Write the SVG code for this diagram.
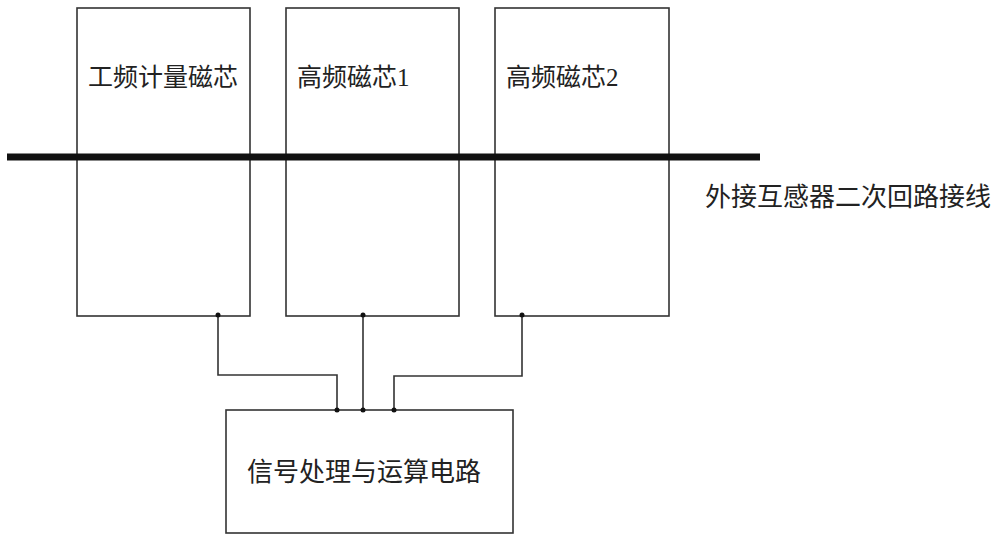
<svg xmlns="http://www.w3.org/2000/svg" width="1000" height="543" viewBox="0 0 1000 543">
<style>
.b{fill:none;stroke:#333;stroke-width:1.6}
.c{fill:none;stroke:#333;stroke-width:1.6}
.t{font-family:"Liberation Serif","Noto Sans CJK SC",serif;font-size:25px;fill:#222}
</style>
<rect width="1000" height="543" fill="#fff"/>
<g id="n1"><rect class="b" x="77" y="8" width="173" height="308"/><text class="t" x="88" y="86">工频计量磁芯</text></g>
<g id="n2"><rect class="b" x="286" y="8" width="173" height="308"/><text class="t" x="297" y="86">高频磁芯1</text></g>
<g id="n3"><rect class="b" x="495" y="8" width="174" height="308"/><text class="t" x="506" y="86">高频磁芯2</text></g>
<g id="n4"><rect class="b" x="226" y="410" width="287" height="123"/><text class="t" x="247" y="481" style="font-size:26px">信号处理与运算电路</text></g>
<g id="wire"><line x1="7" y1="157" x2="760" y2="157" stroke="#111" stroke-width="7"/><text class="t" x="705" y="206" style="font-size:26px">外接互感器二次回路接线</text></g>
<g id="connectors">
<polyline class="c" points="218,315 218,375 337,375 337,410"/>
<polyline class="c" points="363,315 363,410"/>
<polyline class="c" points="522,315 522,376 394,376 394,410"/>
<g fill="#111"><circle cx="218" cy="315" r="2.5"/><circle cx="363" cy="315" r="2.5"/><circle cx="522" cy="315" r="2.5"/><circle cx="337" cy="410" r="2.5"/><circle cx="363" cy="410" r="2.5"/><circle cx="394" cy="410" r="2.5"/></g>
</g>
</svg>
